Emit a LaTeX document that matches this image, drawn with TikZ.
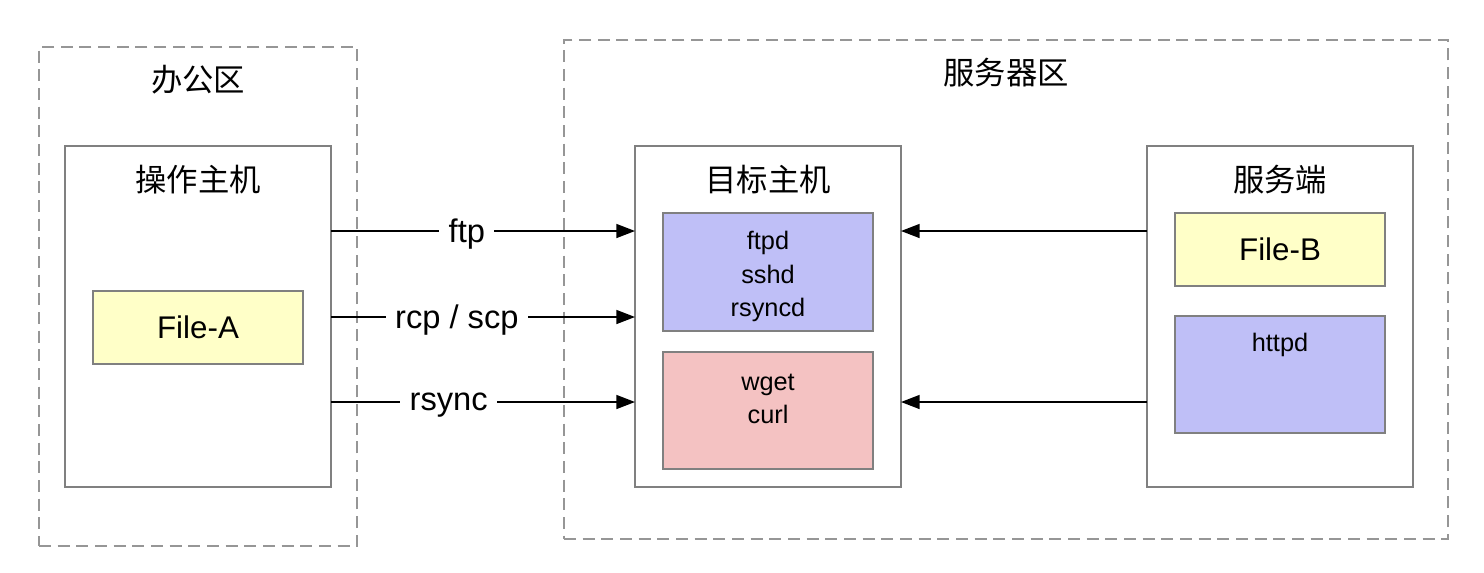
\documentclass[tikz,border=0pt]{standalone}
\usepackage{fontspec}
\setmainfont{Liberation Sans}
\newfontfamily\cjk{Noto Sans CJK SC}
\usetikzlibrary{arrows.meta}
\definecolor{edgegray}{RGB}{128,128,128}
\definecolor{zonegray}{RGB}{150,150,150}
\definecolor{fileyellow}{RGB}{255,255,200}
\definecolor{svcblue}{RGB}{191,191,247}
\definecolor{clired}{RGB}{244,194,194}

\begin{document}
\begin{tikzpicture}[x=0.75pt,y=-0.75pt,
  zone/.style={draw=zonegray,line width=1.1pt,dash pattern=on 9pt off 5pt,
               inner sep=0pt,outer sep=0pt,minimum height=374.25pt},
  host/.style={draw=edgegray,line width=1.1pt,fill=white,inner sep=0pt,outer sep=0pt,
               minimum width=199.5pt,minimum height=255.75pt},
  inbox/.style={draw=edgegray,line width=1.1pt,inner sep=0pt,outer sep=0pt,
                minimum width=157.5pt,align=center,font=\fontsize{19}{25}\selectfont},
  filebox/.style={inbox,fill=fileyellow,minimum height=54.75pt,font=\fontsize{23.5}{28}\selectfont},
  svcbox/.style={inbox,fill=svcblue},
  clibox/.style={inbox,fill=clired},
  list/.style={align=center,inner sep=0pt,font=\fontsize{19}{25}\selectfont},
  title/.style={inner sep=0pt,font=\cjk\fontsize{23.5}{28}\selectfont},
  lbl/.style={fill=white,inner sep=7pt,yshift=-2.5pt,font=\fontsize{24.5}{28}\selectfont},
  arr/.style={line width=1.1pt,-{Triangle[length=14pt,width=10.5pt]}}]
\useasboundingbox (0,0) rectangle (1484,572);

\node[zone,minimum width=238.5pt] (office) at (198,296.5) {};
\node[zone,minimum width=663pt] (servers) at (1006,289.5) {};
\node[title] (officeTitle) at ([yshift=-24.75pt]office.north) {办公区};
\node[title] (serversTitle) at ([yshift=-24.75pt]servers.north) {服务器区};

\node[host] (opHost) at (198,316.5) {};
\node[host] (tgtHost) at (768,316.5) {};
\node[host] (srvHost) at (1280,316.5) {};
\node[title] (opTitle) at ([yshift=-25.5pt]opHost.north) {操作主机};
\node[title] (tgtTitle) at ([yshift=-25.5pt]tgtHost.north) {目标主机};
\node[title] (srvTitle) at ([yshift=-25.5pt]srvHost.north) {服务端};

\node[filebox] (fileA) at (198,327.5) {File-A};
\node[svcbox,minimum height=88.5pt] (tgtSvc) at (768,272) {};
\node[list] (tgtSvcText) at (768,276.5) {ftpd\\sshd\\rsyncd};
\node[clibox,minimum height=87.75pt] (tgtCli) at (768,410.5) {};
\node[list] (tgtCliText) at (768,399) {wget\\curl};
\node[filebox] (fileB) at (1280,249.5) {File-B};
\node[svcbox,minimum height=87.75pt] (srvSvc) at (1280,374.5) {};
\node[list] (srvSvcText) at (1280,345) {httpd};

\coordinate (yTop) at (0,231);
\coordinate (yMid) at (0,317);
\coordinate (yLow) at (0,402);
\draw[arr] (opHost.east |- yTop) -- (tgtHost.west |- yTop) node[lbl,pos=0.447] {ftp};
\draw[arr] (opHost.east |- yMid) -- (tgtHost.west |- yMid) node[lbl,pos=0.414] {rcp / scp};
\draw[arr] (opHost.east |- yLow) -- (tgtHost.west |- yLow) node[lbl,pos=0.387] {rsync};
\draw[arr] (srvHost.west |- yTop) -- (tgtHost.east |- yTop);
\draw[arr] (srvHost.west |- yLow) -- (tgtHost.east |- yLow);
\end{tikzpicture}
\end{document}
